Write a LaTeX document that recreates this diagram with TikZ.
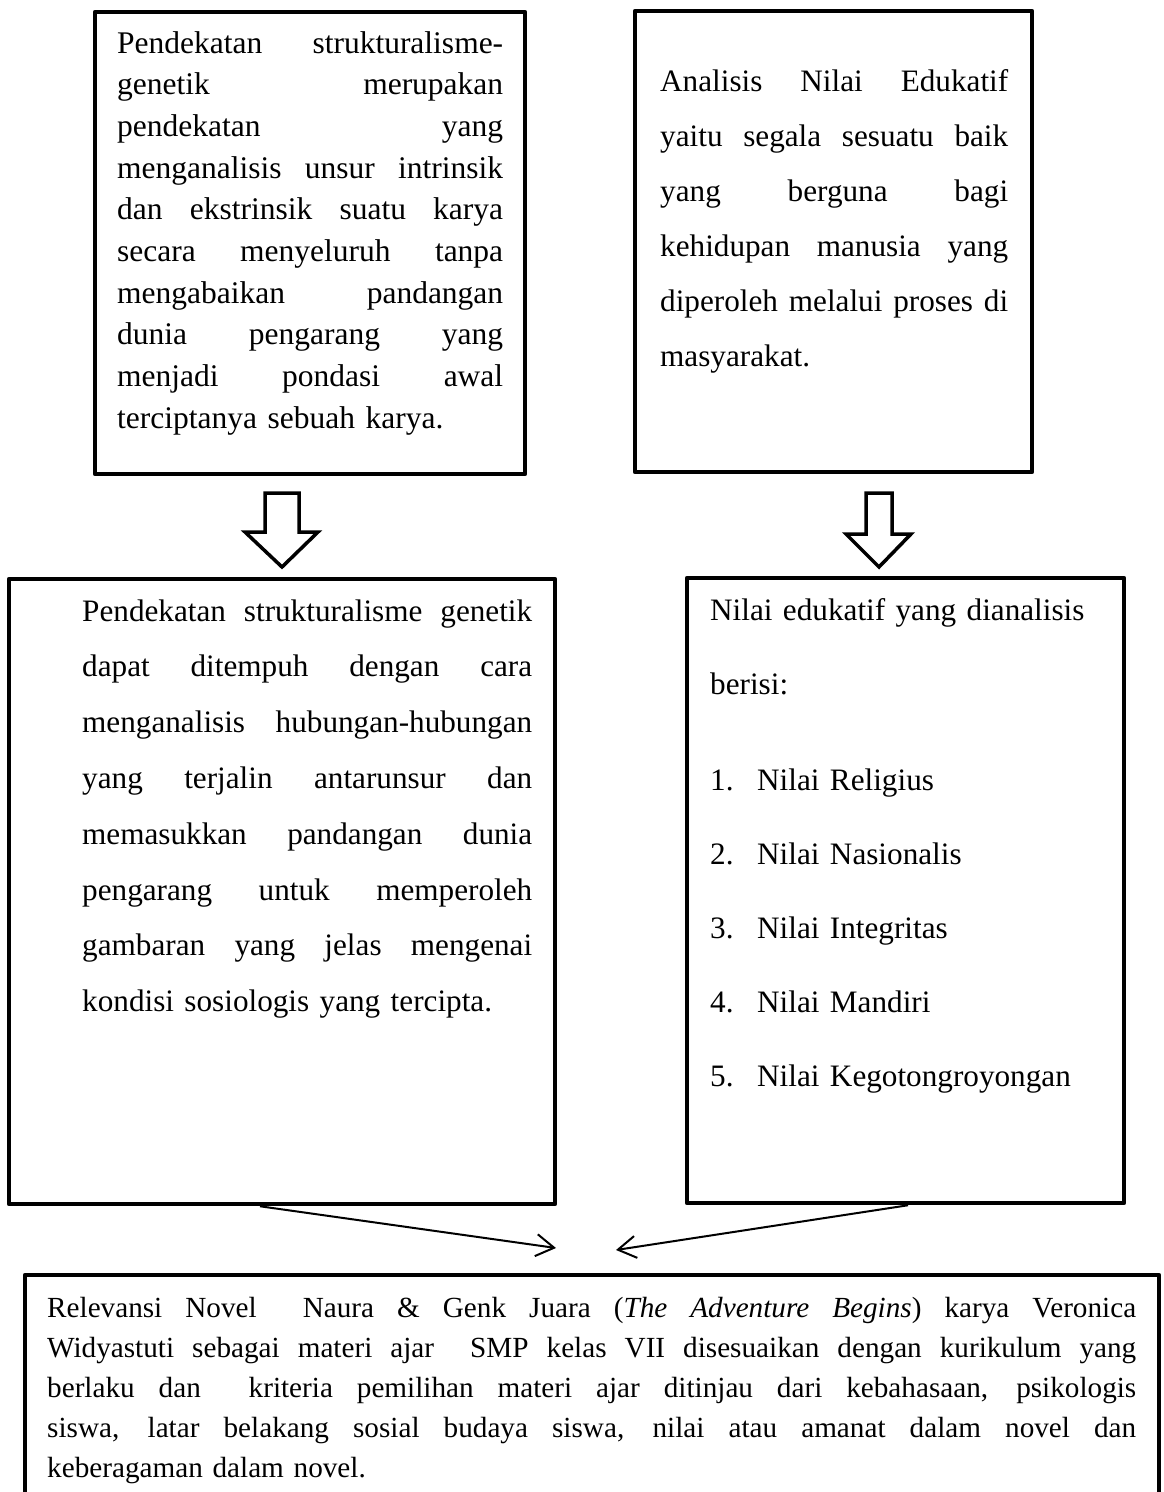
\documentclass[tikz,border=0pt]{standalone}
\usepackage{fontspec}
\setmainfont{Liberation Serif}
\usetikzlibrary{arrows.meta}
\newcommand\jl[1]{\leavevmode\hbox to \hsize{\spaceskip=0.25em plus 10em minus 0.1em\relax #1}}
\newcommand\itm[2]{\makebox[47pt][l]{#1}#2}
\begin{document}
\begin{tikzpicture}[x=1pt,y=-1pt,
  box/.style={draw, line width=4.5pt, line join=round, inner sep=0pt, rectangle},
  txt/.style={inner sep=0pt, anchor=base west, align=left},
  hollow/.style={draw, line width=3.5pt, fill=white, line join=miter},
  conn/.style={line width=2pt, -{Straight Barb[length=18pt,width=22pt]}}]
\useasboundingbox (0,0) rectangle (1163,1492);
\clip (0,0) rectangle (1163,1492);
\fill[white] (0,0) rectangle (1163,1492);

% boxes
\node[box, minimum width=430pt, minimum height=462pt] (tl) at (310,243) {};
\node[box, minimum width=397pt, minimum height=461pt] (tr) at (833.5,241.5) {};
\node[box, minimum width=546pt, minimum height=625pt] (bl) at (282,891.5) {};
\node[box, minimum width=437pt, minimum height=625pt] (br) at (905.5,890.5) {};
\node[box, minimum width=1134pt, minimum height=260pt] (bot) at (592,1405) {};

% texts
\node[txt, text width=386pt, font=\fontsize{31.5}{41.7}\selectfont] (tltext) at (117,53)
{\jl{Pendekatan strukturalisme-}\\
 \jl{genetik merupakan}\\
 \jl{pendekatan yang}\\
 \jl{menganalisis unsur intrinsik}\\
 \jl{dan ekstrinsik suatu karya}\\
 \jl{secara menyeluruh tanpa}\\
 \jl{mengabaikan pandangan}\\
 \jl{dunia pengarang yang}\\
 \jl{menjadi pondasi awal}\\
 terciptanya sebuah karya.};

\node[txt, text width=348pt, font=\fontsize{31.2}{55}\selectfont] (trtext) at (660,91)
{\jl{Analisis Nilai Edukatif}\\
 \jl{yaitu segala sesuatu baik}\\
 \jl{yang berguna bagi}\\
 \jl{kehidupan manusia yang}\\
 \jl{diperoleh melalui proses di}\\
 masyarakat.};

\node[txt, text width=450pt, font=\fontsize{31.2}{55.8}\selectfont] (bltext) at (82,621)
{\jl{Pendekatan strukturalisme genetik}\\
 \jl{dapat ditempuh dengan cara}\\
 \jl{menganalisis hubungan-hubungan}\\
 \jl{yang terjalin antarunsur dan}\\
 \jl{memasukkan pandangan dunia}\\
 \jl{pengarang untuk memperoleh}\\
 \jl{gambaran yang jelas mengenai}\\
 kondisi sosiologis yang tercipta.};

\node[txt, text width=400pt, font=\fontsize{31.2}{74}\selectfont] (brtext) at (710,620)
{Nilai edukatif yang dianalisis\\
 berisi:\\[22pt]
 \itm{1.}{Nilai Religius}\\
 \itm{2.}{Nilai Nasionalis}\\
 \itm{3.}{Nilai Integritas}\\
 \itm{4.}{Nilai Mandiri}\\
 \itm{5.}{Nilai Kegotongroyongan}};

\node[txt, text width=1089pt, font=\fontsize{29.2}{40}\selectfont] (bottext) at (47,1317)
{\jl{Relevansi Novel\ \ Naura \& Genk Juara (\textit{The Adventure Begins}) karya Veronica}\\
 \jl{Widyastuti sebagai materi ajar\ \ SMP kelas VII disesuaikan dengan kurikulum yang}\\
 \jl{berlaku dan\ \ kriteria pemilihan materi ajar ditinjau dari kebahasaan, psikologis}\\
 \jl{siswa, latar belakang sosial budaya siswa, nilai atau amanat dalam novel dan}\\
 keberagaman dalam novel.};

% hollow down arrows
\draw[hollow] (265,493) -- (299,493) -- (299,532) -- (318,532) -- (282,567)
  -- (245,532) -- (265,532) -- cycle;
\draw[hollow] (866,493) -- (892,493) -- (892,534) -- (911,534) -- (879,567)
  -- (846,534) -- (866,534) -- cycle;

% connectors
\coordinate (t1) at (556,1248);
\coordinate (t2) at (616,1250);
\draw[conn] ([xshift=-22pt]bl.south) -- (t1);
\draw[conn] ([xshift=2.5pt]br.south) -- (t2);
\end{tikzpicture}
\end{document}
